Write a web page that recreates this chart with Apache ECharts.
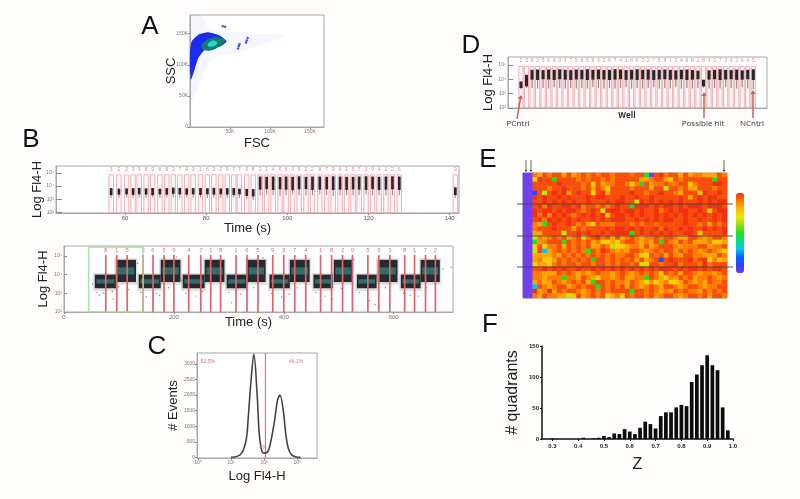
<!DOCTYPE html>
<html>
<head>
<meta charset="utf-8">
<style>
html,body{margin:0;padding:0;background:#fffefc;}
#c{width:800px;height:499px;filter:blur(0.6px);}
</style>
<script src="https://cdn.jsdelivr.net/npm/echarts@6/dist/echarts.min.js"></script>
</head>
<body>
<div id="c"></div>
<script>
/* ---------- Panel A: FSC (K) / SSC (K) density outlines ---------- */
var aHalo=[[0,180],[14,180],[24,158],[60,152],[90,150],[121,147],[96,135],[60,120],[26,108],[10,62],[0,40]];
var aBlue=[[1.25,75.8],[6.25,94.6],[10.4,110.8],[18.75,124.2],[37.5,129.5],[45.8,137.6],[37.5,146.8],[22.9,152.1],[10.4,148.4],[2,137.6],[0,120],[0,90]];
var aTeal=[[14,128],[20,123],[29,124],[38,131],[44,140],[36,144],[26,143],[18,137]];
var aCore=[[22,131],[28,129],[34,134],[32,138],[26,138]];
var aSpecks=[[41,162],[44,161],[60,126],[61,130],[62,133],[70,136],[71,139],[72,143]];
var aXTicks=[50,100,150], aYTicks=[0,50,100,150];

/* ---------- Panel B top: per-well gates and events ---------- */
var b1Time=[56.6,58.5,60.4,62,63.5,65.2,66.8,68.6,70.3,71.9,73.5,75.2,76.8,78.6,80.3,81.9,83.6,85.2,86.8,88.2,90,91.6,93.3,94.9,96.5,98.2,99.7,101.3,102.9,104.6,106.2,108,109.7,111.3,113,114.6,116.2,117.7,119.4,121,122.6,124.3,125.9,127.6,141.4];
var b1High=[3.84,3.8,3.82,3.84,3.86,3.82,3.85,3.8,3.84,3.88,3.86,3.82,3.84,3.85,3.83,3.86,3.82,3.84,3.85,3.8,3.78,3.76,4.72,4.7,4.72,4.68,4.72,4.7,4.74,4.7,4.72,4.72,4.7,4.74,4.72,4.7,4.7,4.72,4.74,4.72,4.7,4.72,4.74,4.72,3.9];
var b1Low=[3.3,3.34,3.36,3.32,3.36,3.34,3.3,3.36,3.34,3.4,3.36,3.34,3.36,3.32,3.36,3.34,3.36,3.34,3.32,3.36,3.24,3.2,3.72,3.76,3.7,3.74,3.72,3.68,3.74,3.76,3.7,3.72,3.74,3.7,3.72,3.7,3.74,3.72,3.7,3.76,3.7,3.72,3.74,3.7,3.3];
var b1Tail=[3.1,3.1,3.15,3.1,3.12,3.1,3.15,3.1,3.12,3.15,3.1,3.12,3.1,3.15,3.1,3.12,3.1,3.1,3.12,3.1,3.0,2.95,3.3,3.35,3.3,3.25,3.3,3.35,3.3,3.28,3.3,3.35,3.3,3.25,3.3,3.3,3.28,3.3,3.35,3.3,3.3,3.28,3.3,3.3,3.1];
var b1Tags="322338988274316229773821466352287961573941269".split("");
var b1XTicks=[60,80,100,120,140], decades=[2,3,4,5];

/* ---------- Panel B bottom: plate segments ---------- */
var b2BlockStart=[56,94.5,136,176,216,256,296,333,374,411,454,491,533,571,613,649];
var b2BlockEnd=[94.5,131,176,212,256,292,333,367,411,447,489,525,569,607,649,684];
var b2BlockLow=[3.27,3.6,3.27,3.6,3.27,3.6,3.27,3.6,3.27,3.6,3.27,3.6,3.27,3.6,3.27,3.6];
var b2BlockHigh=[4,4.79,4,4.79,4,4.79,4,4.79,4,4.79,4,4.79,4,4.79,4,4.79];
var b2Gates=[76,96,115,144,162,182,200,227,249,267,285,313,333,353,380,400,420,440,467,487,507,525,553,573,593,620,638,658,676];
var b2Tags="81526394718265937418295638172".split("");
var b2Stray=[[52,3.5],[60,3.05],[64,2.9],[72,3.0],[88,3.1],[90,2.7],[99,3.35],[118,3.2],[134,4.6],[140,3.05],[150,2.8],[168,3.0],[174,2.9],[190,3.3],[205,4.95],[215,3.7],[222,3.0],[240,2.85],[252,3.1],[268,3.2],[300,3.05],[305,2.5],[322,2.95],[345,3.3],[362,4.9],[378,3.0],[396,2.8],[410,2.95],[425,3.3],[458,3.05],[475,2.85],[488,2.7],[505,3.25],[528,4.8],[538,3.05],[556,2.6],[566,2.4],[585,3.3],[618,3.0],[630,2.9],[645,2.85],[660,3.3],[690,4.3],[705,4.4]];
var b2XTicks=[0,200,400,600];
var b2GreenGate=[45,144];

/* ---------- Panel C: histogram ---------- */
var cLogX=[1,1.1,1.2,1.3,1.38,1.465,1.515,1.6,1.69,1.79,1.85,1.92,1.99,2.12,2.22,2.32,2.4,2.48,2.58,2.65,2.73,2.83,2.98,3.1];
var cCount=[0,10,40,110,260,600,1200,2400,3300,2000,800,250,130,200,600,1200,1800,2000,1500,800,300,80,10,0];
var cYTicks=[0,500,1000,1500,2000,2500,3000], cXTicks=[0,1,2,3];
var cGate=2.04;
var cLabels=[[0.3,3054,"53.5%"],[2.97,3054,"46.1%"],[1.97,300,"0%"]];

/* ---------- Panel D: wells ---------- */
var dWell=[1,2,3,4,5,6,7,8,9,10,11,12,13,14,15,16,17,18,19,20,21,22,23,24,25,26,27,28,29,30,31,32,33,34,35,36,37,38,39,40,41,42,43];
var dHigh=[3.85,4.31,4.66,4.68,4.64,4.68,4.66,4.7,4.66,4.64,4.68,4.66,4.7,4.66,4.68,4.64,4.66,4.7,4.68,4.64,4.66,4.7,4.66,4.68,4.64,4.66,4.68,4.66,4.62,4.66,4.68,4.64,4.6,3.97,4.62,4.66,4.7,4.66,4.64,4.68,4.62,4.66,4.7];
var dLow=[3.39,3.5,3.97,3.95,4,3.98,3.95,4,3.97,3.95,3.98,4,3.95,3.97,4,3.98,3.95,3.97,4,3.96,3.98,3.95,4,3.97,3.95,3.98,4,3.96,3.98,4,3.95,3.97,4,3.5,3.97,4,3.95,3.98,4,3.96,3.97,4,3.95];
var dTail=[3.3,3.4,3.4,3.35,3.4,3.35,3.45,3.4,3.35,3.4,3.35,3.4,3.35,3.45,3.4,3.35,3.4,3.35,3.4,3.45,3.35,3.4,3.35,3.4,3.45,3.35,3.4,3.35,3.45,3.35,3.4,3.35,3.4,3.4,3.35,3.4,3.35,3.45,3.4,3.35,3.45,3.35,3.3];
var dTags="2382664317585932674186327591346828157362945".split("");

/* ---------- Panel E: heatmap, one digit per well, levels 0 (purple) to 9 (red) ---------- */
var eRows=[
"0076878868 6787878878 8878830897 8868677666 87",
"0059883888 8787887878 8888667886 5878888883 88",
"0088888988 8878586778 8757386778 7788578889 98",
"0088878898 8878687588 8878886884 8878668887 88",
"0018489896 8988589688 8898878898 8768885988 98",
"0098988989 8889899888 9889889888 8898689899 88",
"0088989898 9889888989 9884989898 9898889898 99",
"0089798899 8978878789 8839998989 9898999899 98",
"0098998989 9878984999 8998988978 9899889858 99",
"0097979898 7898989589 9898988989 8989898989 89",
"0089798989 8988989899 9889898989 9889889889 89",
"0076389889 8786587778 8878788788 8889887868 78",
"0078889888 6878888989 9898988979 8898988989 89",
"0066888848 8989889899 9938989898 9889985888 89",
"0047678786 7847897868 6787677878 8766887678 87",
"0036788838 7878675565 7887676838 7687866675 56",
"0058577868 7878668745 5677686788 8767778867 78",
"0048267878 7873879876 7688767878 8687876787 65",
"0066667687 8787878787 7887558786 8768877666 87",
"0067556878 7878388787 8786867818 9888978957 56",
"0056657878 8788788787 8878458878 8978887978 88",
"0088989898 8988989898 9898989899 9898998989 98",
"0077666878 7676787767 8767878758 7868876776 78",
"0077677737 7687657767 8667738765 7687867787 67",
"0067668767 8786388787 7687656567 5568767687 78",
"0028767886 7878838787 8687678768 8767887677 88",
"0096796878 8767878788 8838878767 6878776878 78",
"0076877664 5867878567 5878878678 8767887868 87"
];
var eLevelValue=[0,13,30,50,66,76,84,90,96,100];
var eColors=["#7040f0","#3040f0","#0060ff","#00c8f0","#00e080","#20e020","#90e010","#e8e800","#ffc000","#ff7a00","#f03010"];

/* ---------- Panel F: Z histogram ---------- */
var fBins=["0.26","0.28","0.30","0.32","0.34","0.36","0.38","0.40","0.42","0.44","0.46","0.48","0.50","0.52","0.54","0.56","0.58","0.60","0.62","0.64","0.66","0.68","0.70","0.72","0.74","0.76","0.78","0.80","0.82","0.84","0.86","0.88","0.90","0.92","0.94","0.96","0.98","1.00"];
var fCounts=[0,0,1,0,0,0,0,0,2,0,1,2,5,3,9,8,16,12,8,18,28,24,17,37,43,43,51,55,53,92,104,119,135,119,111,51,14,0];

/* ---------- Text ---------- */
var panelLetters=[["A",150,27],["B",31,140],["C",157,347],["D",471,46],["E",488,160],["F",490,325]];
var dNotes=[["PCntrl",518,124,false],["Well",627,116,true],["Possible hit",703,124,false],["NCntrl",752,124,false]];

var FONT="Liberation Sans";
var sup={0:"\u2070",1:"\u00b9",2:"\u00b2",3:"\u00b3",4:"\u2074",5:"\u2075"};
var tickGray="#8a8a8a", borderGray="#a6a6a6", gatePink="#f09aa2", gateRed="#e4606a";
function decadeLabel(v){return "10"+sup[v];}

function box(l,t,r,b,show){return {left:l,top:t,width:r-l,height:b-t,show:show!==false,backgroundColor:"#ffffff",borderColor:borderGray,borderWidth:1};}
var grids=[box(190,15,324,127),box(56,166,459,213),box(64,246,453,312),box(197,353,317,458),box(508,57,767,108),box(523,173,727,298),box(542,346,733,439,false)];

function fa(grid,min,max,ticks,fmt,inside,len,name,gap,fs,lc,shift){
  var o={type:"value",gridIndex:grid,min:min,max:max,splitLine:{show:false},
    axisLine:{show:true,onZero:false,lineStyle:{color:borderGray}},
    axisTick:{show:true,inside:!!inside,length:len||2,lineStyle:{color:tickGray},customValues:ticks},
    axisLabel:{show:true,customValues:ticks,formatter:fmt,fontFamily:FONT,fontSize:fs||5,color:lc||"#777",margin:2}};
  if(name){o.name=name;o.nameLocation="middle";o.nameGap=gap;o.nameMoveOverlap=false;
    o.nameTextStyle={fontFamily:FONT,fontSize:13,color:"#222",padding:shift?[0,shift,0,0]:0};}
  return o;
}
function k(v){return v+"K";}
function plain(v){return ""+v;}
var xAxes=[
  fa(0,0,167.5,aXTicks,k,false,2,"FSC",9.5),
  fa(1,43,142.3,b1XTicks,plain,false,2,"Time (s)",8.5,6,"#555",20),
  fa(2,0,708,b2XTicks,plain,false,2,"Time (s)",4,6,"#777",20),
  fa(3,-0.03,3.6,cXTicks,decadeLabel,false,2,"Log Fl4-H",11.5),
  {type:"value",gridIndex:4,min:-1.35,max:45.48,show:true,axisLine:{lineStyle:{color:borderGray}},axisTick:{show:false},axisLabel:{show:false},splitLine:{show:false}},
  {type:"category",gridIndex:5,show:false,data:eRows[0].replace(/ /g,"").split("").map(function(_,i){return i;})},
  {type:"category",gridIndex:6,data:fBins,boundaryGap:false,name:"Z",nameLocation:"middle",nameGap:18,nameMoveOverlap:false,
    nameTextStyle:{fontFamily:FONT,fontSize:16,color:"#222"},
    axisLine:{lineStyle:{color:"#111",width:1.5}},
    axisTick:{alignWithLabel:true,length:2,lineStyle:{color:"#111",width:1},interval:function(i){return i%5===2;}},
    axisLabel:{interval:function(i){return i%5===2;},formatter:function(v){return parseFloat(v).toFixed(1);},fontFamily:FONT,fontSize:6,fontWeight:"bold",color:"#222",margin:4}}
];
var yAxes=[
  fa(0,0,180,aYTicks,function(v){return v?k(v):"0";},false,2,"SSC",12.5),
  fa(1,1.95,5.52,decades,decadeLabel,true,6,"Log Fl4-H",12.5),
  fa(2,2,5.53,decades,decadeLabel,true,3,"Log Fl4-H",14.5),
  fa(3,-20,3345,cYTicks,plain,false,2,"# Events",17.5),
  fa(4,2,5.55,decades,decadeLabel,true,5,"Log Fl4-H",13.5),
  {type:"category",gridIndex:5,show:false,inverse:true,data:eRows.map(function(_,i){return i;})},
  {type:"value",gridIndex:6,min:0,max:150,interval:50,name:"# quadrants",nameLocation:"middle",nameGap:21,nameMoveOverlap:false,
    nameTextStyle:{fontFamily:FONT,fontSize:16,color:"#222"},
    axisLine:{show:true,lineStyle:{color:"#111",width:1.5}},axisTick:{show:true,length:2,lineStyle:{color:"#111"}},
    splitLine:{show:false},axisLabel:{fontFamily:FONT,fontSize:6,fontWeight:"bold",color:"#222",margin:3}}
];

var series=[];
function custom(g,data,render,z){series.push({type:"custom",xAxisIndex:g,yAxisIndex:g,data:data,z:z||2,silent:true,animation:false,renderItem:render});}
function poly(g,pts,fill,z,sm){
  custom(g,[0],function(p,api){return {type:"polygon",shape:{points:pts.map(function(q){return api.coord(q);}),smooth:sm},style:{fill:fill}};},z);
}
function rect(api,x0,x1,y0,y1,style){
  var a=api.coord([x0,y1]),b=api.coord([x1,y0]);
  return {type:"rect",shape:{x:a[0],y:a[1],width:b[0]-a[0],height:b[1]-a[1]},style:style};
}
function wellMarks(g,xs,hi,lo,tail,tags,half,gateTop,gateBot,tagY,blobW){
  custom(g,xs,function(p,api){
    var x=xs[p.dataIndex];
    var c=api.coord([x,gateTop]);
    return {type:"group",children:[
      rect(api,x-half,x+half,gateBot,gateTop,{fill:"rgba(238,143,152,0.06)",stroke:gatePink,lineWidth:0.8}),
      {type:"text",x:c[0],y:api.coord([x,tagY])[1],style:{text:tags[p.dataIndex],fill:"#e9808c",fontSize:5,fontFamily:FONT,align:"center",verticalAlign:"middle"}}
    ]};
  },2);
  custom(g,xs,function(p,api){
    var i=p.dataIndex,x=xs[i];
    return {type:"group",children:[
      rect(api,x-blobW*0.4,x+blobW*0.4,tail[i],lo[i],{fill:"rgba(70,70,70,0.6)"}),
      rect(api,x-blobW,x+blobW,lo[i],hi[i],{fill:"rgba(22,20,22,0.92)"})
    ]};
  },3);
}

/* A */
poly(0,aHalo,"rgba(80,90,240,0.05)",2,0.2);
poly(0,aBlue,"#1a2cf0",3,0.15);
poly(0,aTeal,"#157a70",4,0.4);
poly(0,aCore,"#12e5d5",5,0.4);
series.push({type:"scatter",xAxisIndex:0,yAxisIndex:0,data:aSpecks,symbolSize:2.5,itemStyle:{color:"#1a2cf0"},silent:true,animation:false,z:5});

/* B top */
wellMarks(1,b1Time,b1High,b1Low,b1Tail,b1Tags,0.55,4.85,1.95,5.25,0.33);

/* B bottom */
custom(2,b2BlockStart,function(p,api){
  var i=p.dataIndex,s=b2BlockStart[i],e=b2BlockEnd[i],lo=b2BlockLow[i],hi=b2BlockHigh[i],mid=(lo+hi)/2,band=(hi-lo)*0.16;
  return {type:"group",children:[
    rect(api,s-3,e+3,lo-0.15,hi+0.08,{fill:"rgba(90,90,90,0.18)"}),
    rect(api,s,e,lo,hi,{fill:"#252a2b"}),
    rect(api,s+3,e-3,mid-band,mid+band,{fill:"rgba(58,165,165,0.55)"})
  ]};
},2);
series.push({type:"scatter",xAxisIndex:2,yAxisIndex:2,data:b2Stray,symbolSize:1.4,itemStyle:{color:"#666"},silent:true,animation:false,z:2});
custom(2,b2Gates,function(p,api){
  var x=b2Gates[p.dataIndex],a=api.coord([x,5.05]),b=api.coord([x,2]),t=api.coord([x,5.3]);
  return {type:"group",children:[
    {type:"line",shape:{x1:a[0],y1:a[1],x2:b[0],y2:b[1]},style:{stroke:gateRed,lineWidth:1.7}},
    {type:"text",x:t[0],y:t[1],style:{text:b2Tags[p.dataIndex],fill:"#e4707c",fontSize:6,fontFamily:FONT,align:"center",verticalAlign:"middle"}}
  ]};
},4);
custom(2,[0],function(p,api){return rect(api,b2GreenGate[0],b2GreenGate[1],2,5.47,{fill:"none",stroke:"#9be09b",lineWidth:1.2});},4);

/* C */
series.push({type:"line",xAxisIndex:3,yAxisIndex:3,data:cLogX.map(function(x,i){return [x,cCount[i]];}),smooth:0.35,showSymbol:false,silent:true,animation:false,lineStyle:{color:"#444",width:1.6},z:3});
series.push({type:"line",xAxisIndex:3,yAxisIndex:3,data:[[cGate,-20],[cGate,3345]],showSymbol:false,silent:true,animation:false,lineStyle:{color:"#e8707a",width:1.2},z:2});
custom(3,cLabels,function(p,api){
  var l=cLabels[p.dataIndex],c=api.coord([l[0],l[1]]);
  return {type:"text",x:c[0],y:c[1],style:{text:l[2],fill:"#e8707c",fontSize:5,fontFamily:FONT,align:"center",verticalAlign:"middle"}};
},4);

/* D */
wellMarks(4,dWell,dHigh,dLow,dTail,dTags,0.38,4.88,2,5.28,0.28);

/* E */
var eData=[];
eRows.forEach(function(r,row){r.replace(/ /g,"").split("").forEach(function(ch,col){eData.push([col,row,eLevelValue[+ch]]);});});
var heatIndex=series.length;
series.push({type:"heatmap",xAxisIndex:5,yAxisIndex:5,data:eData,silent:true,animation:false,progressive:0});

/* F */
series.push({type:"bar",xAxisIndex:6,yAxisIndex:6,data:fCounts,barWidth:3.7,itemStyle:{color:"#0c0c0c"},silent:true,animation:false});

/* Annotations */
function arrow(x1,y1,x2,y2,color,w,h){
  var a=Math.atan2(y2-y1,x2-x1),c=Math.cos(a),s=Math.sin(a),bx=x2-c*h*1.6,by=y2-s*h*1.6;
  return [
    {type:"line",z:100,shape:{x1:x1,y1:y1,x2:bx,y2:by},style:{stroke:color,lineWidth:w}},
    {type:"polygon",z:100,shape:{points:[[x2,y2],[bx-s*h,by+c*h],[bx+s*h,by-c*h]]},style:{fill:color}}
  ];
}
var g=[];
panelLetters.forEach(function(l){g.push({type:"text",z:100,style:{text:l[0],x:l[1],y:l[2],fontSize:26,fontFamily:FONT,fill:"#111",align:"center",verticalAlign:"middle"}});});
dNotes.forEach(function(n){g.push({type:"text",z:100,style:{text:n[0],x:n[1],y:n[2],fontSize:8,fontWeight:n[3]?"bold":"normal",fontFamily:"Open Sans",fill:"#333",align:"center",verticalAlign:"middle"}});});
g=g.concat(arrow(517,119,521,95,"#c4605a",1.5,2.5),arrow(704,118,704,92,"#c4605a",1.5,2.5),arrow(753,118,753,90,"#c4605a",1.5,2.5));
g=g.concat(arrow(526,160,526,172,"#222",0.7,1.3),arrow(531,160,531,172,"#222",0.7,1.3),arrow(724,160,724,172,"#222",0.7,1.3));
[204,236,267].forEach(function(y){g.push({type:"line",z:100,shape:{x1:517,y1:y,x2:733,y2:y},style:{stroke:"#444",lineWidth:0.9}});});

var chart=echarts.init(document.getElementById("c"),null,{renderer:"canvas"});
chart.setOption({
  backgroundColor:"#fffefc",animation:false,
  grid:grids,xAxis:xAxes,yAxis:yAxes,series:series,graphic:g,
  visualMap:{type:"continuous",seriesIndex:heatIndex,min:0,max:100,calculable:false,realtime:false,
    left:736,top:193,padding:0,itemWidth:8,itemHeight:80,showLabel:false,inRange:{color:eColors}}
});
</script>
</body>
</html>
